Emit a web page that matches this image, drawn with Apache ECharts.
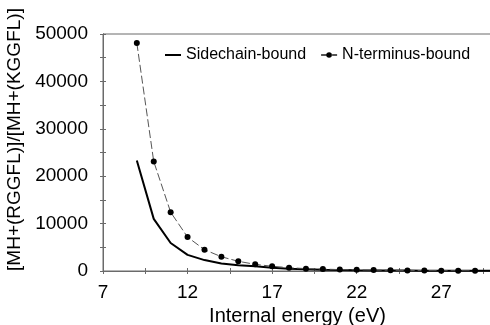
<!DOCTYPE html>
<html>
<head>
<meta charset="utf-8">
<script src="https://cdn.jsdelivr.net/npm/echarts@6/dist/echarts.min.js"></script>
<style>
  html, body { margin: 0; padding: 0; background: #fff; }
  #chart { width: 490px; height: 325px; }
</style>
</head>
<body>
<div id="chart"></div>
<script>
// Internal energy (eV) at which each ratio was evaluated
const energySidechain = [9, 10, 11, 12, 13, 14, 15, 16, 17, 18, 19, 20, 21, 22, 23, 24, 25, 26, 27, 28, 29, 30];
const ratioSidechain = [23300, 11000, 5900, 3400, 2300, 1600, 1200, 1000, 700, 500, 350, 250, 200, 150, 120, 100, 80, 60, 50, 40, 30, 30];

const energyNTerm = [9, 10, 11, 12, 13, 14, 15, 16, 17, 18, 19, 20, 21, 22, 23, 24, 25, 26, 27, 28, 29];
const ratioNTerm = [48100, 23100, 12400, 7150, 4500, 3000, 2050, 1400, 1000, 700, 500, 400, 300, 250, 200, 150, 120, 80, 60, 50, 40];

// Axis ticks and labels
const xLabelValues = [7, 12, 17, 22, 27];
const xTickValues = [7, 9.5, 12, 14.5, 17, 19.5, 22, 24.5, 27, 29.5];

const seriesNames = ['Sidechain-bound', 'N-terminus-bound'];

const FONT = '"Liberation Sans", Arial, sans-serif';
const AXIS_GRAY = '#6a6a6a';

function pairs(xs, ys) { return xs.map((x, i) => [x, ys[i]]); }

const chart = echarts.init(document.getElementById('chart'), null, { renderer: 'canvas' });

const xBase = {
  type: 'value', min: 7, max: 30, position: 'bottom',
  axisLine: { show: true, lineStyle: { color: AXIS_GRAY, width: 1 } },
  splitLine: { show: false }
};
const yBase = {
  type: 'value', min: 0, max: 50000, interval: 10000, position: 'left',
  axisLine: { show: true, lineStyle: { color: AXIS_GRAY, width: 1 } },
  splitLine: { show: false }
};

chart.setOption({
  animation: false,
  backgroundColor: '#fff',
  textStyle: { fontFamily: FONT },
  grid: {
    left: 103, right: -2, top: 34, bottom: 54,
    containLabel: false, outerBoundsMode: 'none',
    show: true, borderColor: AXIS_GRAY, borderWidth: 1
  },
  legend: {
    left: 160, top: 42,
    itemWidth: 16, itemHeight: 7, itemGap: 14,
    textStyle: { fontSize: 16, color: '#000', fontFamily: FONT },
    data: [
      // plain solid stroke for the line-only series
      { name: seriesNames[0], icon: 'path://M0,0h16v2h-16z' },
      { name: seriesNames[1] }
    ]
  },
  xAxis: [
    Object.assign({}, xBase, {
      name: 'Internal energy (eV)', nameLocation: 'middle', nameGap: 34,
      nameTextStyle: { fontSize: 20, color: '#000', fontFamily: FONT },
      axisTick: { show: true, inside: false, length: 3, customValues: xTickValues, lineStyle: { color: AXIS_GRAY } },
      axisLabel: { show: true, margin: 12, fontSize: 19, color: '#000', fontFamily: FONT, customValues: xLabelValues }
    }),
    Object.assign({}, xBase, {
      axisTick: { show: true, inside: true, length: 3, customValues: xTickValues, lineStyle: { color: AXIS_GRAY } },
      axisLabel: { show: false }
    })
  ],
  yAxis: [
    Object.assign({}, yBase, {
      name: '[MH+(RGGFL)]/[MH+(KGGFL)]', nameLocation: 'middle', nameGap: 76,
      nameTextStyle: { fontSize: 19, color: '#000', fontFamily: FONT, padding: [0, 0, 0, 26] },
      axisTick: { show: true, inside: false, length: 3, lineStyle: { color: AXIS_GRAY } },
      minorTick: { show: true, splitNumber: 2, length: 3, lineStyle: { color: AXIS_GRAY } },
      axisLabel: {
        show: true, margin: 15, fontSize: 19, color: '#000', fontFamily: FONT,
        formatter: v => String(v)
      }
    }),
    Object.assign({}, yBase, {
      axisTick: { show: true, inside: true, length: 3, lineStyle: { color: AXIS_GRAY } },
      minorTick: { show: true, splitNumber: 2, length: 3, lineStyle: { color: AXIS_GRAY } },
      axisLabel: { show: false }
    })
  ],
  series: [
    {
      name: seriesNames[0], type: 'line',
      xAxisIndex: 0, yAxisIndex: 0,
      data: pairs(energySidechain, ratioSidechain),
      symbol: 'none', showSymbol: false,
      lineStyle: { color: '#000', width: 2 },
      itemStyle: { color: '#000' },
      z: 3
    },
    {
      name: seriesNames[1], type: 'line',
      xAxisIndex: 0, yAxisIndex: 0,
      data: pairs(energyNTerm, ratioNTerm),
      symbol: 'circle', symbolSize: 6,
      lineStyle: { color: '#555', width: 1, type: [8, 3] },
      itemStyle: { color: '#000', borderWidth: 0 },
      z: 4
    }
  ]
});
</script>
</body>
</html>
